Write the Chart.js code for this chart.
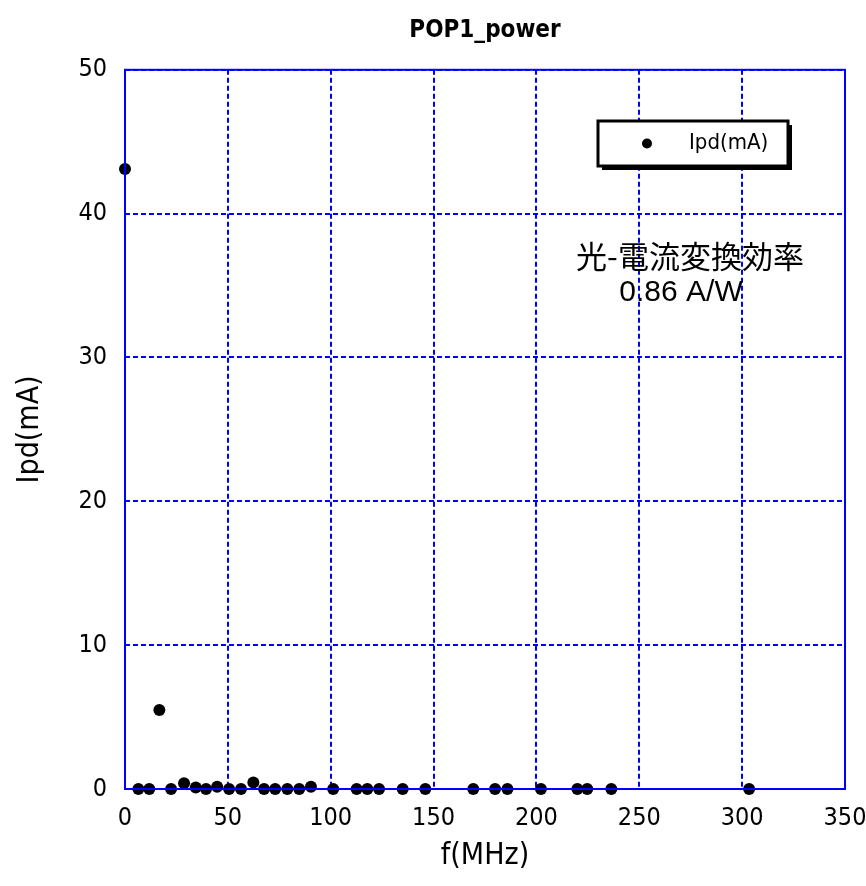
<!DOCTYPE html>
<html>
<head>
<meta charset="utf-8">
<script src="https://cdn.jsdelivr.net/npm/chart.js@4/dist/chart.umd.min.js"></script>
<style>
  html, body { margin: 0; padding: 0; background: #fff; }
  #wrap { width: 866px; height: 886px; }
</style>
</head>
<body>
<div id="wrap"><canvas id="chart" width="866" height="886"></canvas></div>
<script>
// frequency (MHz) and photodiode current (mA)
const freqMHz = [0, 6.5, 11.8, 16.7, 22.4, 28.7, 34.4, 39.4, 44.8, 50.6, 56.4, 62.4, 67.6, 73.0, 78.9, 84.7, 90.4,
                 101.2, 112.6, 117.8, 123.5, 135.0, 146.0, 169.3, 179.9, 185.9, 202.2, 219.9, 224.7, 236.4, 303.4];
const ipdMA = [43.1, 0, 0, 5.5, 0, 0.4, 0.1, 0, 0.15, 0, 0, 0.45, 0, 0, 0, 0, 0.15,
               0, 0, 0, 0, 0, 0, 0, 0, 0, 0, 0, 0, 0, 0];
const seriesLabel = 'Ipd(mA)';
const noteLines = ['光-電流変換効率', '0.86 A/W'];

const blue = '#0000ff';

// frame, legend box and the note inside the plot
const extras = {
    id: 'extras',
    afterDraw(chart) {
        const ctx = chart.ctx;
        const a = chart.chartArea;
        ctx.save();

        // solid plot frame
        ctx.strokeStyle = blue;
        ctx.lineWidth = 2;
        ctx.strokeRect(a.left, a.top, a.right - a.left, a.bottom - a.top);

        // legend box with shadow
        const lx = 598, ly = 121, lw = 190, lh = 45;
        ctx.fillStyle = '#000';
        ctx.fillRect(lx + 4, ly + 4, lw, lh);
        ctx.fillStyle = '#fff';
        ctx.fillRect(lx, ly, lw, lh);
        ctx.strokeStyle = '#000';
        ctx.lineWidth = 3;
        ctx.strokeRect(lx, ly, lw, lh);
        ctx.fillStyle = '#000';
        ctx.beginPath();
        ctx.arc(647, 143.5, 5, 0, Math.PI * 2);
        ctx.fill();
        ctx.font = '22px "DejaVu Sans Condensed"';
        ctx.textAlign = 'left';
        ctx.textBaseline = 'middle';
        ctx.fillText(chart.data.datasets[0].label, 689, 143);

        // note
        ctx.textAlign = 'center';
        ctx.font = '31px "Noto Sans CJK JP"';
        ctx.fillText(noteLines[0], 690, 256);
        ctx.font = '30px "Liberation Sans"';
        ctx.fillText(noteLines[1], 681, 293);

        ctx.restore();
    }
};

const tickFont = { family: '"DejaVu Sans Condensed"', size: 25 };
const titleFont = { family: '"DejaVu Sans Condensed"', size: 30 };

new Chart(document.getElementById('chart'), {
    type: 'scatter',
    data: {
        datasets: [{
            label: seriesLabel,
            data: freqMHz.map((f, i) => ({ x: f, y: ipdMA[i] })),
            backgroundColor: '#000',
            borderWidth: 0,
            pointRadius: 6,
            pointHoverRadius: 6,
            showLine: false,
            clip: false
        }]
    },
    options: {
        responsive: false,
        animation: false,
        events: [],
        layout: { padding: { left: 0, right: 21, top: 0, bottom: 0 } },
        plugins: {
            legend: { display: false },
            tooltip: { enabled: false },
            title: {
                display: true,
                text: 'POP1_power',
                fullSize: false,
                color: '#000',
                font: { family: '"DejaVu Sans Condensed"', size: 24, weight: 'bold' },
                padding: { top: 16, bottom: 25 }
            }
        },
        scales: {
            x: {
                type: 'linear',
                min: 0, max: 350,
                ticks: { stepSize: 50, color: '#000', font: tickFont, padding: 14 },
                grid: { color: blue, lineWidth: 2, drawTicks: false },
                border: { display: false, dash: [5, 3] },
                title: { display: true, text: 'f(MHz)', color: '#000', font: titleFont, padding: { top: 4, bottom: 12 } },
                afterFit(scale) {
                    scale.height = 97;
                    scale.paddingLeft = 0;
                    scale.paddingRight = 0;
                }
            },
            y: {
                min: 0, max: 50,
                ticks: { stepSize: 10, color: '#000', font: tickFont, padding: 18 },
                grid: { color: blue, lineWidth: 2, drawTicks: false },
                border: { display: false, dash: [5, 3] },
                title: { display: true, text: 'Ipd(mA)', color: '#000', font: titleFont, padding: { top: 12, bottom: 4 } },
                afterFit(scale) { scale.width = 125; }
            }
        }
    },
    plugins: [extras]
});
</script>
</body>
</html>
